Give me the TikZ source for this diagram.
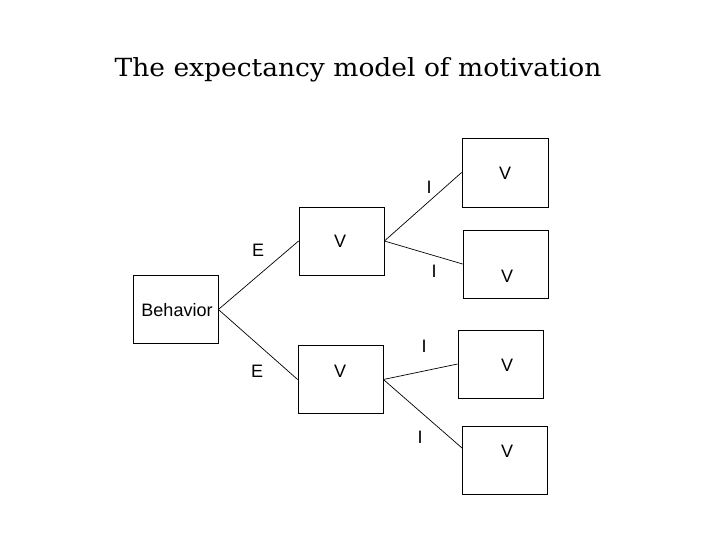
\documentclass[tikz,border=0pt]{standalone}
\usepackage{fontspec}
\newfontfamily\arialfont{Liberation Sans}
\newfontfamily\titlefont{DejaVu Serif}
\begin{document}
\begin{tikzpicture}[x=1pt,y=-1pt,
  box/.style={draw,line width=0.8pt,minimum width=85pt,minimum height=68pt,inner sep=0pt},
  lbl/.style={font=\arialfont\fontsize{18}{18}\selectfont,inner sep=0pt},
  conn/.style={line width=0.7pt}]
\fill[white] (0,0) rectangle (720,540);
\useasboundingbox (0,0) rectangle (720,540);
\node[font=\titlefont\fontsize{25}{25}\selectfont,inner sep=0pt,anchor=base,xscale=1.06] (title) at (358,77) {The expectancy model of motivation};
% boxes
\node[box] (B) at (175.5,309.5) {};
\node[box] (V1) at (341.5,241) {};
\node[box] (V2) at (340.5,379.5) {};
\node[box,minimum width=86pt,minimum height=69pt] (R1) at (505,172.5) {};
\node[box] (R2) at (505.5,264) {};
\node[box] (R3) at (500.5,364) {};
\node[box] (R4) at (504.5,460) {};
% texts
\node[lbl] (tB) at (177,310) {Behavior};
\node[lbl] (tV1) at (340,241) {V};
\node[lbl] (tV2) at (340,371) {V};
\node[lbl] (tR1) at (505,173) {V};
\node[lbl] (tR2) at (507,276) {V};
\node[lbl] (tR3) at (507,365) {V};
\node[lbl] (tR4) at (507,451) {V};
% connectors
\coordinate (R4in) at (462,448);
\draw[conn] (B.east) -- (V1.west);
\draw[conn] (B.east) -- (V2.west);
\draw[conn] (V1.east) -- (R1.west);
\draw[conn] (V1.east) -- (R2.west);
\draw[conn] (V2.east) -- (R3.west);
\draw[conn] (V2.east) -- (R4in);
% edge labels
\node[lbl] (e1) at (258,250) {E};
\node[lbl] (e2) at (257,371) {E};
\node[lbl] (i1) at (429,187) {I};
\node[lbl] (i2) at (434,271) {I};
\node[lbl] (i3) at (424,346) {I};
\node[lbl] (i4) at (420,437) {I};
\end{tikzpicture}
\end{document}
